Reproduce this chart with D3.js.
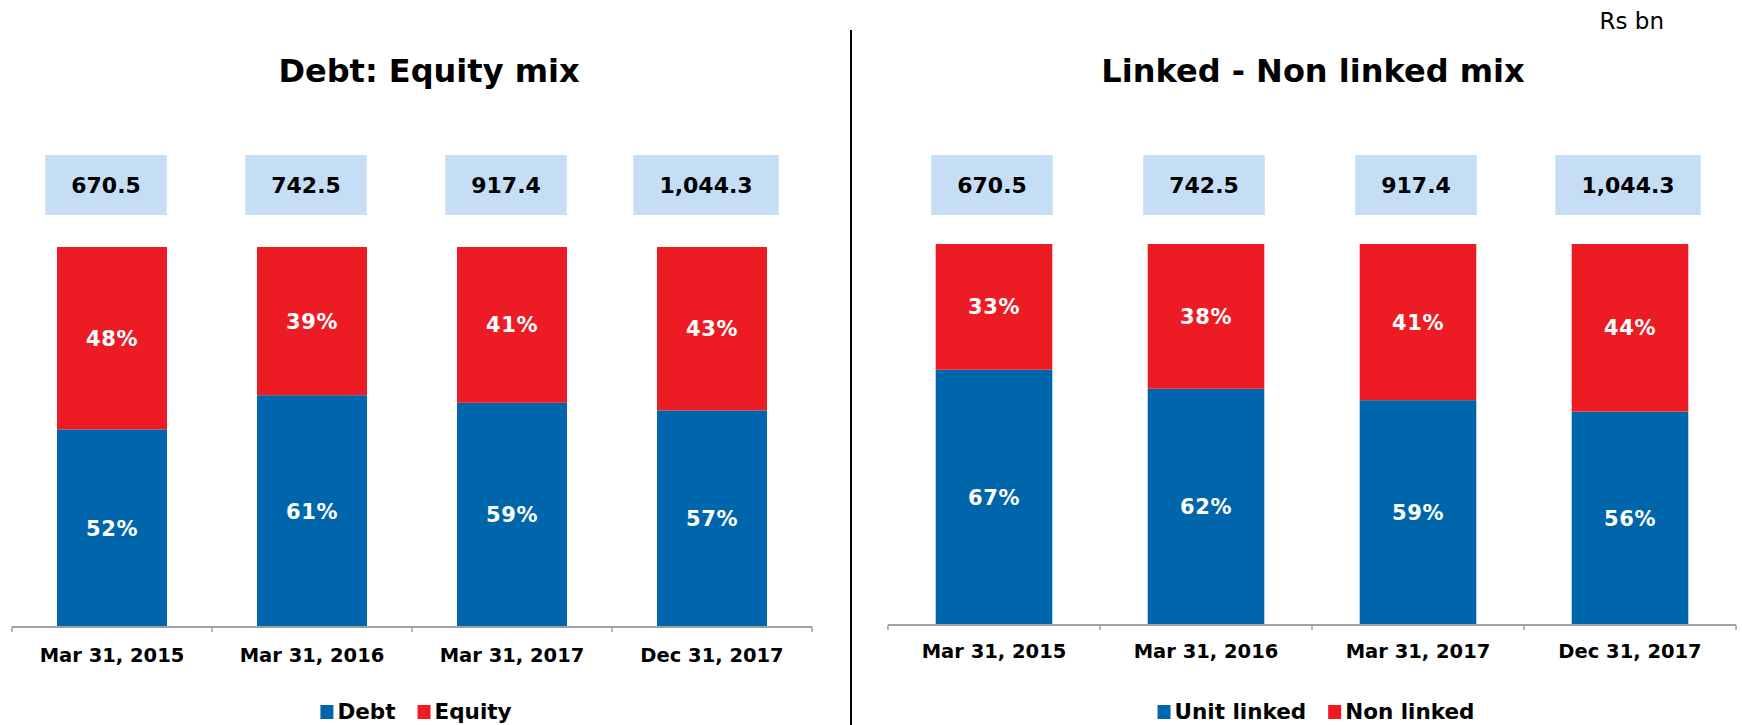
<!DOCTYPE html>
<html>
<head>
<meta charset="utf-8">
<script src="https://cdn.jsdelivr.net/npm/d3@7"></script>
<style>
  html, body { margin: 0; padding: 0; background: #fff; }
  svg { display: block; font-family: "DejaVu Sans", Verdana, sans-serif; }
</style>
</head>
<body>
<svg width="1742" height="725"></svg>
<script>
const categories = ["Mar 31, 2015", "Mar 31, 2016", "Mar 31, 2017", "Dec 31, 2017"];
const totals = [670.5, 742.5, 917.4, 1044.3];
const debt = [52, 61, 59, 57];
const equity = [48, 39, 41, 43];
const unitLinked = [67, 62, 59, 56];
const nonLinked = [33, 38, 41, 44];

const BLUE = "#0066ab";
const RED = "#ed1c24";
const BOX = "#c5ddf5";

const svg = d3.select("svg");

// "Rs bn" unit note and the divider between the two panels
svg.append("text")
  .attr("x", 1664).attr("y", 29)
  .attr("text-anchor", "end")
  .attr("font-size", 23)
  .text("Rs bn");

svg.append("line")
  .attr("x1", 851).attr("x2", 851)
  .attr("y1", 30).attr("y2", 725)
  .attr("stroke", "#000").attr("stroke-width", 2);

const panels = [
  { title: "Debt: Equity mix", titleX: 429, x0: 12, x1: 812, base: 627, top: 247,
    boxShift: -6, labelY: 662, keys: ["Debt", "Equity"], series: [debt, equity] },
  { title: "Linked - Non linked mix", titleX: 1313, x0: 888, x1: 1736, base: 625, top: 244,
    boxShift: -2, labelY: 658, keys: ["Unit linked", "Non linked"], series: [unitLinked, nonLinked] }
];

const fmt = d3.format(",.1f");

panels.forEach(p => {
  const g = svg.append("g");

  const x = d3.scaleBand()
    .domain(categories)
    .range([p.x0, p.x1])
    .paddingInner(0.45)
    .paddingOuter(0.225);

  const y = d3.scaleLinear()
    .domain([0, 100])
    .range([p.base, p.top]);

  const color = d3.scaleOrdinal().domain(p.keys).range([BLUE, RED]);

  g.append("text")
    .attr("x", p.titleX).attr("y", 82)
    .attr("text-anchor", "middle")
    .attr("font-size", 32)
    .attr("font-weight", "bold")
    .text(p.title);

  const rows = categories.map((c, i) => {
    const r = { cat: c };
    p.keys.forEach((k, j) => { r[k] = p.series[j][i]; });
    return r;
  });
  const stacked = d3.stack().keys(p.keys)(rows);

  const layer = g.selectAll("g.layer")
    .data(stacked)
    .join("g")
    .attr("class", "layer")
    .attr("fill", d => color(d.key));

  layer.selectAll("rect")
    .data(d => d)
    .join("rect")
    .attr("x", d => x(d.data.cat))
    .attr("width", x.bandwidth())
    .attr("y", d => y(d[1]))
    .attr("height", d => y(d[0]) - y(d[1]));

  layer.selectAll("text")
    .data(d => d.map(v => ({ v, key: d.key })))
    .join("text")
    .attr("x", d => x(d.v.data.cat) + x.bandwidth() / 2)
    .attr("y", d => (y(d.v[0]) + y(d.v[1])) / 2)
    .attr("dy", "0.36em")
    .attr("text-anchor", "middle")
    .attr("fill", "#fff")
    .attr("font-size", 21)
    .attr("letter-spacing", 0.6)
    .attr("font-weight", "bold")
    .text(d => d.v.data[d.key] + "%");

  // total boxes above the bars
  const boxes = g.selectAll("g.total")
    .data(categories.map((c, i) => ({ cat: c, total: totals[i] })))
    .join("g")
    .attr("class", "total")
    .attr("transform", d => `translate(${x(d.cat) + x.bandwidth() / 2 + p.boxShift},185)`);

  const rect = boxes.append("rect").attr("fill", BOX);
  const txt = boxes.append("text")
    .attr("text-anchor", "middle")
    .attr("dy", "0.36em")
    .attr("font-size", 22)
    .attr("font-weight", "bold")
    .text(d => fmt(d.total));
  txt.each(function (d, i) {
    const w = this.getComputedTextLength() + 52;
    d3.select(rect.nodes()[i])
      .attr("x", -w / 2).attr("width", w)
      .attr("y", -30).attr("height", 60);
  });

  // x axis with ticks at the band edges
  const axis = g.append("g");
  axis.append("line")
    .attr("x1", p.x0).attr("x2", p.x1)
    .attr("y1", p.base).attr("y2", p.base)
    .attr("stroke", "#a0a0a0").attr("stroke-width", 2);
  const edges = categories.map(c => x(c) - x.step() * x.paddingInner() / 2).concat([p.x1]);
  axis.selectAll("line.tick")
    .data(edges)
    .join("line")
    .attr("class", "tick")
    .attr("x1", d => d).attr("x2", d => d)
    .attr("y1", p.base).attr("y2", p.base + 5)
    .attr("stroke", "#a0a0a0").attr("stroke-width", 1.5);
  axis.selectAll("text")
    .data(categories)
    .join("text")
    .attr("x", d => x(d) + x.bandwidth() / 2)
    .attr("y", p.labelY)
    .attr("text-anchor", "middle")
    .attr("font-size", 19.5)
    .attr("font-weight", "bold")
    .text(d => d);

  // legend
  const leg = g.append("g");
  let cx = 0;
  p.keys.forEach(k => {
    const item = leg.append("g").attr("transform", `translate(${cx},0)`);
    item.append("rect")
      .attr("x", 0).attr("y", -14)
      .attr("width", 13).attr("height", 14)
      .attr("fill", color(k));
    const t = item.append("text")
      .attr("x", 17).attr("y", 0)
      .attr("font-size", 21.5)
      .attr("font-weight", "bold")
      .text(k);
    cx += 17 + t.node().getComputedTextLength() + 22;
  });
  const legW = cx - 22;
  leg.attr("transform", `translate(${(p.x0 + p.x1) / 2 - legW / 2 + 4},719)`);
});
</script>
</body>
</html>
